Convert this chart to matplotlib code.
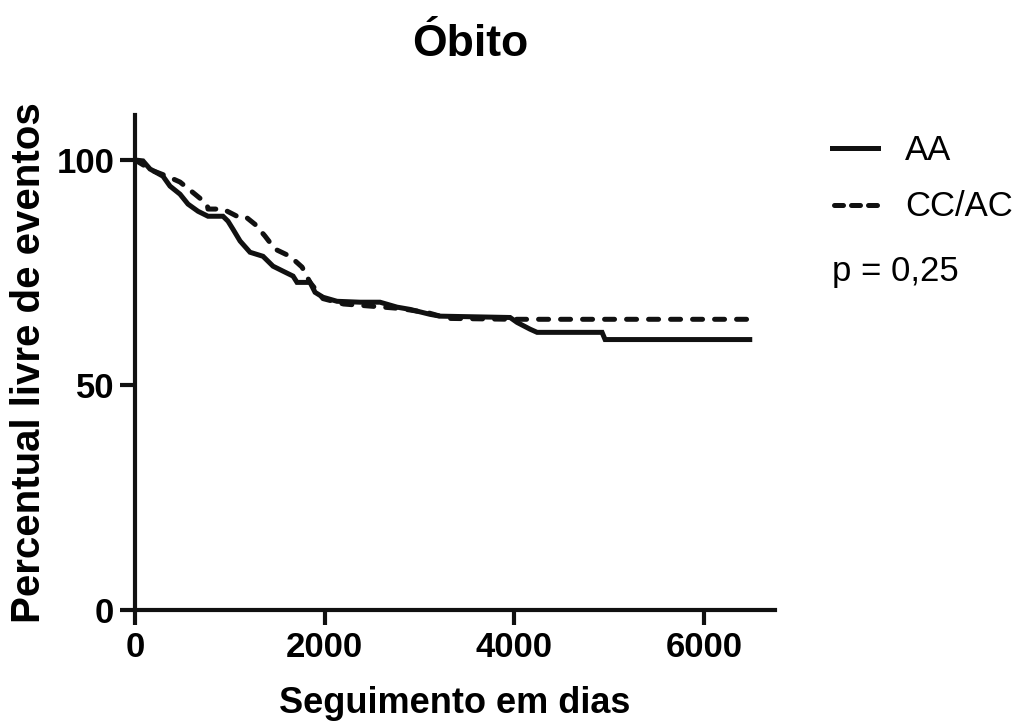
import matplotlib
matplotlib.use("Agg")
import matplotlib.pyplot as plt

# Data
aa_days = [0, 84, 158, 295, 369, 475, 559, 665, 770, 928, 981, 1034, 1108, 1213, 1350,
           1456, 1561, 1667, 1709, 1846, 1899, 1983, 2131, 2373, 2584, 2764, 2901, 3112,
           3217, 3956, 4030, 4167, 4241, 4926, 4958, 6510]
aa_pct = [100, 99.8, 98.0, 96.4, 94.2, 92.4, 90.2, 88.6, 87.5, 87.5, 86.4, 84.6, 82.0,
          79.5, 78.6, 76.4, 75.3, 74.2, 72.8, 72.8, 70.6, 69.5, 68.6, 68.4, 68.4, 67.3,
          66.8, 65.7, 65.3, 65.0, 63.9, 62.4, 61.7, 61.7, 60.1, 60.1]

cc_days = [0, 127, 190, 338, 475, 633, 760, 770, 928, 1076, 1160, 1266, 1371, 1477,
           1635, 1762, 1846, 1983, 2200, 2800, 3100, 3300, 3990, 6510]
cc_pct = [100, 98.4, 97.6, 96.4, 95.1, 92.4, 90.2, 89.1, 89.1, 87.5, 87.5, 85.7, 83.1,
          80.2, 78.6, 76.2, 72.8, 69.2, 68.0, 67.0, 66.0, 64.8, 64.6, 64.6]

series_labels = ["AA", "CC/AC"]
p_text = "p = 0,25"
x_ticks = [0, 2000, 4000, 6000]
y_ticks = [0, 50, 100]

plt.rcParams['font.family'] = ['Liberation Sans', 'DejaVu Sans']

fig = plt.figure(figsize=(10.21, 7.28), dpi=100)
ax = fig.add_axes([135/1021, (728-610)/728, 640/1021, (610-115)/728])

lw = 3.6
dash = (0, (2.0, 2.4))
ax.plot(aa_days, aa_pct, color='#111111', lw=lw, solid_joinstyle='miter',
        solid_capstyle='butt')
ax.plot(cc_days, cc_pct, color='#111111', lw=lw,
        linestyle=dash, dash_capstyle='round')

ax.set_xlim(0, 6750)
ax.set_ylim(0, 110)
ax.set_xticks(x_ticks)
ax.set_yticks(y_ticks)
ax.spines['top'].set_visible(False)
ax.spines['right'].set_visible(False)
for s in ['left', 'bottom']:
    ax.spines[s].set_linewidth(3)
    ax.spines[s].set_color('#111111')
ax.tick_params(axis='both', length=11, width=3, color='#111111', direction='out',
               labelsize=25, pad=4)
for lab in ax.get_xticklabels() + ax.get_yticklabels():
    lab.set_fontweight('bold')

ax.set_xlabel("Seguimento em dias", fontsize=26, fontweight='bold', labelpad=16)
ax.set_ylabel("Percentual livre de eventos", fontsize=29, fontweight='bold', labelpad=6)
fig.text(470/1021, 1-45/728, "Óbito", fontsize=32, fontweight='bold',
         ha='center', va='center')

# Legend (manual)
fig.lines.append(plt.Line2D([832/1021, 878/1021], [1-148/728, 1-148/728],
                            transform=fig.transFigure, color='#111111', lw=lw))
fig.lines.append(plt.Line2D([834/1021, 878/1021], [1-205/728, 1-205/728],
                            transform=fig.transFigure, color='#111111', lw=lw,
                            linestyle=(0, (1.8, 1.6)), dash_capstyle='round'))
fig.text(905/1021, 1-150/728, series_labels[0], fontsize=25, va='center')
fig.text(905/1021, 1-207/728, series_labels[1], fontsize=25, va='center')
fig.text(832/1021, 1-272/728, p_text, fontsize=25, va='center')

fig.savefig("out.png", dpi=100)
